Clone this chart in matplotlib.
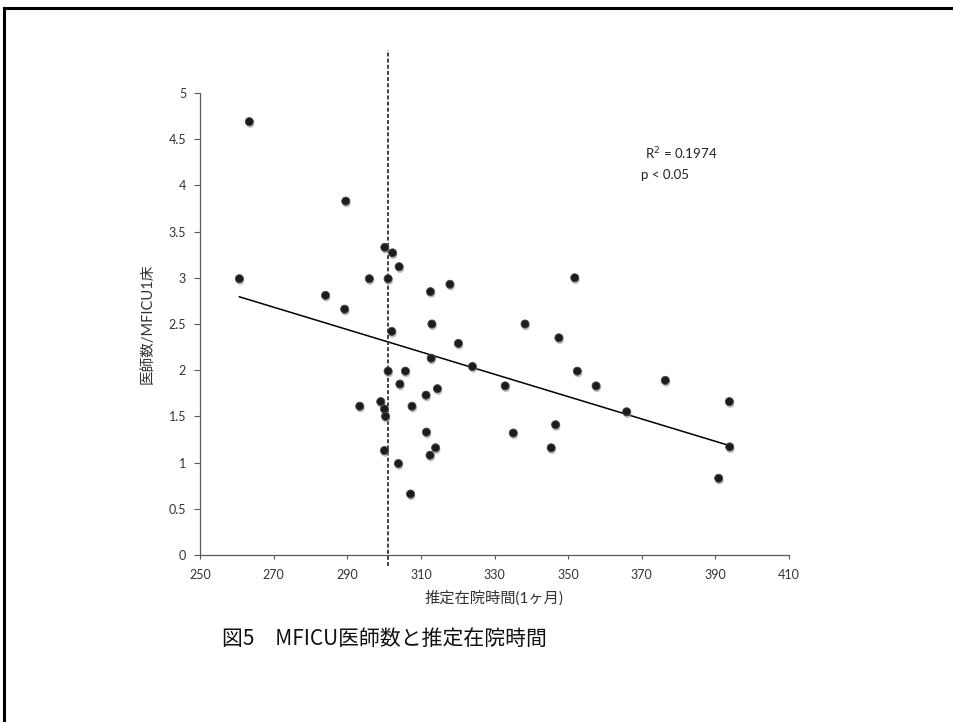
import numpy as np
import matplotlib
matplotlib.use("Agg")
import matplotlib.pyplot as plt
import matplotlib.patheffects as pe
from matplotlib.lines import Line2D

plt.rcParams['font.family'] = ['Lato', 'Noto Sans CJK JP', 'DejaVu Sans']

# estimated stay time (1 month) vs doctors per MFICU bed
stay_hours = [260.7, 263.4, 284.1, 289.3, 289.6, 293.4, 296.0, 299.1, 300.1, 300.4,
              300.1, 300.2, 301.1, 301.1, 302.1, 302.3, 303.9, 304.1, 304.3, 305.8,
              307.2, 307.6, 311.4, 311.5, 312.5, 312.6, 312.8, 313.0, 314.0, 314.5,
              317.9, 320.2, 324.0, 332.9, 335.1, 338.3, 345.4, 346.6, 347.5, 351.8,
              352.5, 357.6, 365.9, 376.4, 390.9, 393.8, 393.9]
doctors_per_bed = [2.99, 4.69, 2.81, 2.66, 3.83, 1.61, 2.99, 1.66, 1.58, 1.50,
                   1.13, 3.33, 2.99, 1.99, 2.42, 3.27, 0.99, 3.12, 1.85, 1.99,
                   0.66, 1.61, 1.73, 1.33, 1.08, 2.85, 2.13, 2.50, 1.16, 1.80,
                   2.93, 2.29, 2.04, 1.83, 1.32, 2.50, 1.16, 1.41, 2.35, 3.00,
                   1.99, 1.83, 1.55, 1.89, 0.83, 1.66, 1.17]
cutoff = 301
x_ticks = [250, 270, 290, 310, 330, 350, 370, 390, 410]
y_ticks = [0, 0.5, 1, 1.5, 2, 2.5, 3, 3.5, 4, 4.5, 5]
y_tick_labels = ["0", "0.5", "1", "1.5", "2", "2.5", "3", "3.5", "4", "4.5", "5"]

x = np.array(stay_hours)
y = np.array(doctors_per_bed)

fig = plt.figure(figsize=(9.54, 7.22), dpi=100)
ax = fig.add_axes([200/954, 1-555/722, 589/954, 462/722])

ax.scatter(x, y, s=34, color="#1c1c1c", edgecolors="#4a4a4a", linewidths=0.6, zorder=3,
           path_effects=[pe.withSimplePatchShadow(offset=(0.6, -1.6), shadow_rgbFace="#9a9a9a", alpha=0.6)])

# linear trendline
m, b = np.polyfit(x, y, 1)
xs = np.array([x.min(), x.max()])
ax.plot(xs, m*xs + b, color="black", lw=1.1, zorder=2)

# cutoff line, runs above the plot area
ax.plot([cutoff, cutoff], [-0.12, 5.47], color="#333333", lw=1.3, ls=(0, (2.2, 1.2)),
        clip_on=False, zorder=2)

ax.set_xlim(250, 410)
ax.set_ylim(0, 5)
ax.set_xticks(x_ticks)
ax.set_yticks(y_ticks)
ax.set_yticklabels(y_tick_labels)
for s in ["top", "right"]:
    ax.spines[s].set_visible(False)
for s in ["left", "bottom"]:
    ax.spines[s].set_color("#595959")
    ax.spines[s].set_linewidth(0.9)
ax.tick_params(axis="y", length=4, width=0.8, color="#595959", labelsize=9, labelcolor="#333333", pad=6)
ax.tick_params(axis="x", length=3, width=0.8, color="#595959", labelsize=9, labelcolor="#333333", pad=7)

ax.set_xlabel("推定在院時間(1ヶ月)", fontsize=11, color="#333333", labelpad=7)
ax.set_ylabel("医師数/MFICU1床", fontsize=10.5, color="#333333", labelpad=10)

ax.text(0.755, 0.868, "R$^2$ = 0.1974", transform=ax.transAxes, fontsize=9.5, color="#222222", va="center")
ax.text(0.749, 0.822, "p < 0.05", transform=ax.transAxes, fontsize=9.5, color="#222222", va="center")

fig.text(222/954, 1-639/722, "図5　MFICU医師数と推定在院時間", fontsize=15, va="center",
         family=['Noto Sans CJK JP', 'DejaVu Sans'], color="#111111")

# page frame (left and top edges)
fig.add_artist(Line2D([4/954, 4/954], [0, 1-8/722], transform=fig.transFigure, color="black", lw=2.2))
fig.add_artist(Line2D([4/954, 1], [1-8/722, 1-8/722], transform=fig.transFigure, color="black", lw=2.2))

fig.savefig("out.png", dpi=100, facecolor="white")
